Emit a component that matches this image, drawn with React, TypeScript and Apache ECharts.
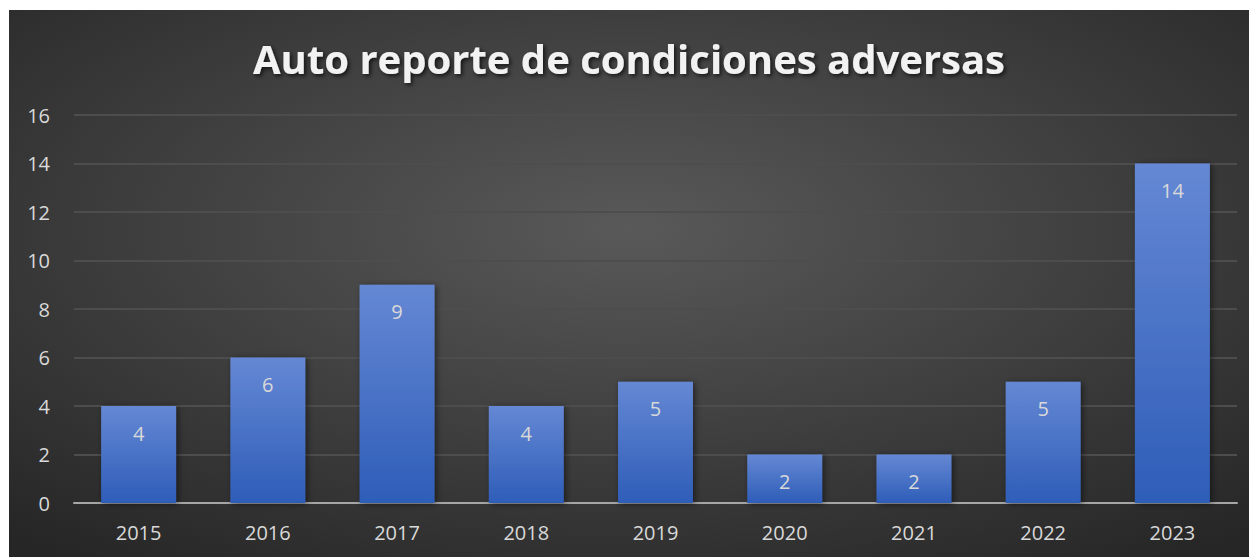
import React, { useEffect, useRef } from "react";
import * as echarts from "echarts";

const categories = ["2015", "2016", "2017", "2018", "2019", "2020", "2021", "2022", "2023"];
const values = [4, 6, 9, 4, 5, 2, 2, 5, 14];
const yTicks = { min: 0, max: 16, interval: 2 };
const titleText = "Auto reporte de condiciones adversas";

export default function App() {
  const ref = useRef<HTMLDivElement>(null);
  useEffect(() => {
    if (!ref.current) return;
    const chart = echarts.init(ref.current, null, { renderer: "svg" });
    chart.setOption({
      animation: false,
      backgroundColor: {
        type: "radial",
        x: 0.5,
        y: 0.4,
        r: 0.75,
        colorStops: [
          { offset: 0, color: "#595959" },
          { offset: 1, color: "#262626" },
        ],
      },
      title: {
        text: titleText,
        left: "center",
        top: 23,
        textStyle: {
          fontFamily: "Open Sans",
          fontWeight: "bold",
          fontSize: 40,
          color: "#f2f2f2",
          textShadowColor: "rgba(0,0,0,0.7)",
          textShadowBlur: 4,
          textShadowOffsetX: 2,
          textShadowOffsetY: 2,
        },
      },
      grid: { left: 65, right: 12, top: 105, bottom: 54 },
      xAxis: {
        type: "category",
        data: categories,
        axisLine: { lineStyle: { color: "#a6a6a6", width: 2 } },
        axisTick: { show: false },
        axisLabel: {
          color: "#d9d9d9",
          fontSize: 20,
          fontFamily: "Open Sans",
          margin: 19,
        },
      },
      yAxis: {
        type: "value",
        min: yTicks.min,
        max: yTicks.max,
        interval: yTicks.interval,
        axisLine: { show: false },
        axisTick: { show: false },
        splitLine: { lineStyle: { color: "#4d4d4d", width: 2 } },
        axisLabel: {
          color: "#d9d9d9",
          fontSize: 20,
          fontFamily: "Open Sans",
          margin: 24,
        },
      },
      series: [
        {
          type: "bar",
          data: values,
          barWidth: "58%",
          itemStyle: {
            color: {
              type: "linear",
              x: 0,
              y: 0,
              x2: 0,
              y2: 1,
              colorStops: [
                { offset: 0, color: "#6588d4" },
                { offset: 1, color: "#2e5db8" },
              ],
            },
            shadowColor: "rgba(0,0,0,0.5)",
            shadowBlur: 6,
            shadowOffsetX: 2,
            shadowOffsetY: 1,
          },
          label: {
            show: true,
            position: "insideTop",
            distance: 17,
            color: "#d9d9d9",
            fontSize: 20,
            fontFamily: "Open Sans",
          },
        },
      ],
    });
    return () => chart.dispose();
  }, []);
  return (
    <div
      ref={ref}
      style={{ position: "absolute", left: 9, top: 10, width: 1240, height: 547 }}
    />
  );
}
